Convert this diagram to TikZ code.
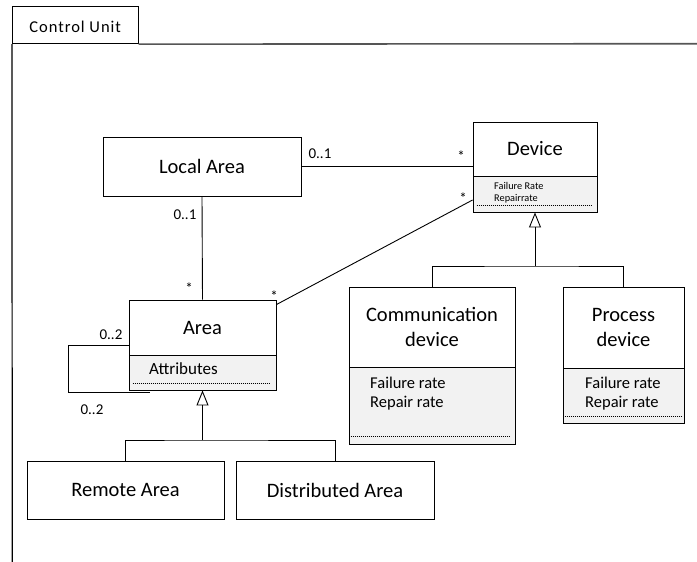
\documentclass[tikz,border=0pt]{standalone}
\usepackage{fontspec}
\setmainfont{Carlito}
\usetikzlibrary{arrows.meta}
\definecolor{attrgray}{HTML}{F2F2F2}
\definecolor{framegray}{HTML}{555555}

\begin{document}
\begin{tikzpicture}[x=1pt,y=-1pt,
  umlbox/.style={draw, line width=0.9pt, inner sep=0pt, fill=white},
  attrbox/.style={umlbox, fill=attrgray},
  cls/.style={font=\fontsize{20.5}{25}\selectfont, align=center},
  attrtext/.style={anchor=west, inner sep=0pt, font=\fontsize{16.5}{20}\selectfont},
  smalltext/.style={anchor=west, inner sep=0pt, font=\fontsize{10.3}{12}\selectfont},
  mult/.style={inner sep=0pt, font=\fontsize{15}{18}\selectfont},
  assoc/.style={line width=0.9pt},
  dots/.style={dash pattern=on 1.2pt off 0.8pt, line width=0.7pt},
  genline/.style={line width=0.9pt},
  gen/.style={genline, -{Triangle[open,length=15pt,width=12pt,line width=0.9pt]}}
]
\useasboundingbox (0,0) rectangle (697,562);

% package frame with its tab
\node[umlbox, minimum width=125.7, minimum height=37,
      font=\fontsize{16.5}{19}\selectfont\addfontfeature{LetterSpace=6}] (tab) at (75.2,25.2) {\raisebox{-7.5pt}[0pt][0pt]{Control Unit}};
\coordinate (frameright) at (697,43.7);
\coordinate (framebottom) at (12.3,562);
\draw[framegray, line width=1.6pt] (tab.south east) -- (frameright);
\draw[line width=1.2pt] (tab.south west) -- (framebottom);

% Local Area
\node[umlbox, cls, minimum width=198, minimum height=59] (local) at (202,166.5) {Local Area};

% Device
\node[umlbox, cls, minimum width=124, minimum height=54] (dev) at (535,149) {Device};
\node[attrbox, minimum width=124, minimum height=36] (devattr) at (535,194) {};
\node[smalltext] (devfr) at (494,186) {Failure Rate};
\node[smalltext] (devrr) at (494,198.5) {Repairrate};
\draw[dots] ([xshift=4pt,yshift=7pt]devattr.south west) -- ([xshift=-6pt,yshift=7pt]devattr.south east);

% Area
\node[umlbox, cls, minimum width=147, minimum height=55] (area) at (202.5,327.5) {Area};
\node[attrbox, minimum width=147, minimum height=35] (areaattr) at (202.5,372.5) {};
\node[attrtext, font=\fontsize{17}{20}\selectfont] (areaat) at (149,369) {Attributes};
\draw[dots] ([xshift=4pt,yshift=7pt]areaattr.south west) -- ([xshift=-6pt,yshift=7pt]areaattr.south east);

% Remote Area and Distributed Area
\node[umlbox, cls, minimum width=197, minimum height=58] (remote) at (125.5,490) {Remote Area};
\node[umlbox, cls, minimum width=198, minimum height=58] (dist) at (335,490) {Distributed Area};

% Communication device
\node[umlbox, cls, minimum width=166, minimum height=80] (comm) at (432,327) {Communication\\device};
\node[attrbox, minimum width=166, minimum height=77] (commattr) at (432,405.5) {};
\node[attrtext] (commfr) at (370,383) {Failure rate};
\node[attrtext] (commrr) at (370,403) {Repair rate};
\draw[dots] ([xshift=2pt,yshift=8pt]commattr.south west) -- ([xshift=-5pt,yshift=8pt]commattr.south east);

% Process device
\node[umlbox, cls, minimum width=121, minimum height=81] (proc) at (623.5,327.5) {Process\\device};
\node[attrbox, minimum width=121, minimum height=55] (procattr) at (623.5,395.5) {};
\node[attrtext] (procfr) at (585,383) {Failure rate};
\node[attrtext] (procrr) at (585,403) {Repair rate};
\draw[dots] ([xshift=2pt,yshift=7pt]procattr.south west) -- ([xshift=-3pt,yshift=7pt]procattr.south east);

% associations
\draw[assoc] (local.east) -- (local.east -| dev.west);
\draw[assoc] ([yshift=-6pt]devattr.west) -- ([yshift=-5pt]area.north east);
\draw[assoc] (local.south) -- (area.north);
\coordinate (loopend) at (150,392);
\draw[assoc] ([yshift=10pt]area.south west) -- ++(-60,0) |- (loopend);

% multiplicities
\node[mult] (m1) at (320,154) {0..1};
\node[mult] (m2) at (461,156) {*};
\node[mult] (m3) at (463,198) {*};
\node[mult] (m4) at (274,296) {*};
\node[mult] (m5) at (185,215) {0..1};
\node[mult] (m6) at (189,288) {*};
\node[mult] (m7) at (111,335) {0..2};
\node[mult] (m8) at (92,410) {0..2};

% generalizations
\coordinate (genarea) at (202.5,440);
\draw[genline] (remote.north) |- (genarea) -| (dist.north);
\draw[gen] (genarea) -- (areaattr.south);
\coordinate (gendev) at (535,266);
\draw[genline] (comm.north) |- (gendev) -| (proc.north);
\draw[gen] (gendev) -- (devattr.south);
\end{tikzpicture}
\end{document}
